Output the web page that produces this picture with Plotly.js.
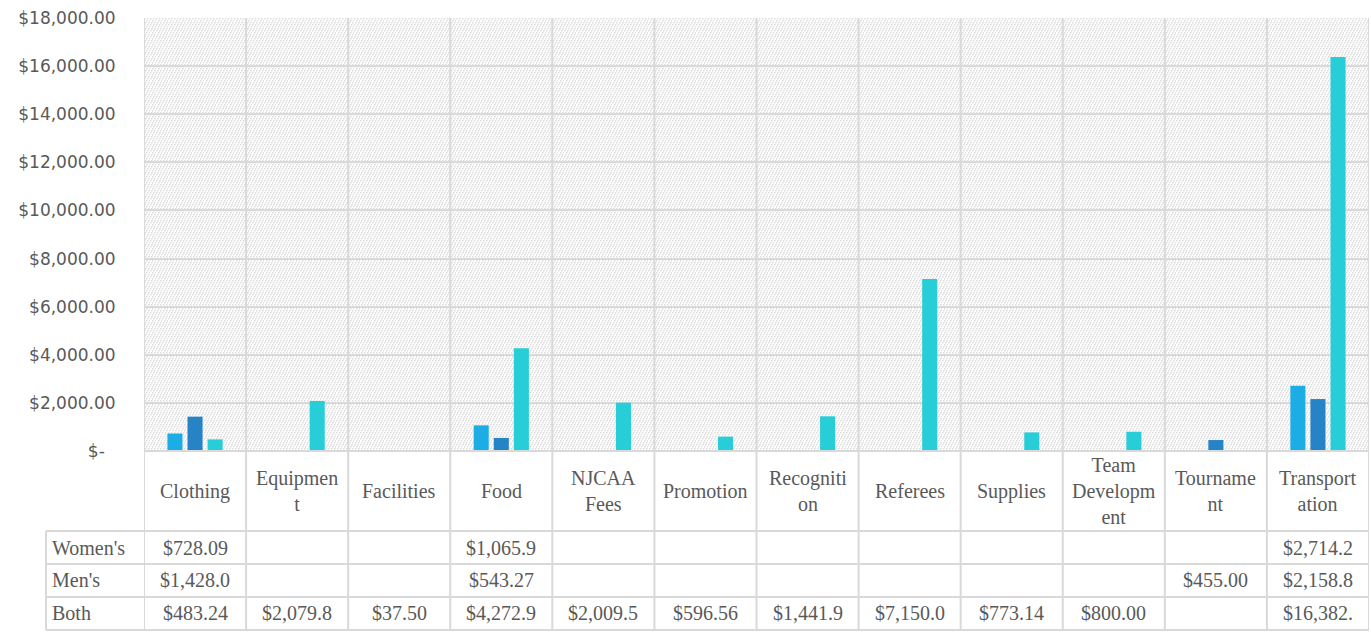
<!DOCTYPE html>
<html>
<head>
<meta charset="utf-8">
<script src="https://cdn.plot.ly/plotly-3.0.1.min.js"></script>
<style>
  html, body { margin: 0; padding: 0; background: #ffffff; }
  #chart { width: 1371px; height: 633px; }
</style>
</head>
<body>
<div id="chart"></div>
<script>
// ---------- data ----------
const categories = ["Clothing", "Equipment", "Facilities", "Food", "NJCAA Fees", "Promotion",
  "Recognition", "Referees", "Supplies", "Team Development", "Tournament", "Transportation"];
// category labels as wrapped in the data table
const categoryLabels = ["Clothing", "Equipmen<br>t", "Facilities", "Food", "NJCAA<br>Fees", "Promotion",
  "Recogniti<br>on", "Referees", "Supplies", "Team<br>Developm<br>ent", "Tourname<br>nt", "Transport<br>ation"];
const seriesNames = ["Women's", "Men's", "Both"];
const womens = [728.09, null, null, 1065.90, null, null, null, null, null, null, null, 2714.20];
const mens   = [1428.00, null, null, 543.27, null, null, null, null, null, null, 455.00, 2158.80];
const both   = [483.24, 2079.80, 37.50, 4272.90, 2009.50, 596.56, 1441.90, 7150.00, 773.14, 800.00, null, 16382.00];
const yTickVals = [0, 2000, 4000, 6000, 8000, 10000, 12000, 14000, 16000, 18000];
const yTickText = ["$-\u00a0\u00a0", "$2,000.00", "$4,000.00", "$6,000.00", "$8,000.00", "$10,000.00",
  "$12,000.00", "$14,000.00", "$16,000.00", "$18,000.00"];
const colors = ["#1CADE4", "#2683C6", "#27CED7"];

// ---------- helpers ----------
function cellText(v) {
  if (v === null || v === undefined) return "";
  const s = "$" + v.toLocaleString("en-US", {minimumFractionDigits: 2, maximumFractionDigits: 2});
  return s.slice(0, 8); // Excel truncates cell text that does not fit
}

const seriesData = [womens, mens, both];
const traces = seriesData.map((vals, i) => ({
  type: "bar",
  name: seriesNames[i],
  x: categories,
  y: vals,
  marker: {color: colors[i], line: {width: 0}},
  hoverinfo: "x+y+name"
}));

// table geometry (paper coordinates, plot area height = 433px)
const rowEdges = [0, -0.18476, -0.26097, -0.33718, -0.41339];
const leftEdge = -0.08;
const gridCol = "#D9D9D9";
const txtCol = "#595959";

const shapes = [];
for (let i = 0; i <= categories.length; i++) {
  shapes.push({type: "line", xref: "x", yref: "paper", x0: i - 0.5, x1: i - 0.5,
    y0: 1, y1: rowEdges[4], line: {color: gridCol, width: 2}, layer: "above"});
}
shapes.push({type: "line", xref: "paper", yref: "paper", x0: 0, x1: 1, y0: 0, y1: 0,
  line: {color: gridCol, width: 2}, layer: "above"});
for (let r = 1; r < rowEdges.length; r++) {
  shapes.push({type: "line", xref: "paper", yref: "paper", x0: leftEdge, x1: 1,
    y0: rowEdges[r], y1: rowEdges[r], line: {color: gridCol, width: 2}, layer: "above"});
}
shapes.push({type: "line", xref: "paper", yref: "paper", x0: leftEdge, x1: leftEdge,
  y0: rowEdges[1], y1: rowEdges[4], line: {color: gridCol, width: 2}, layer: "above"});

const annotations = [];
const tableFont = {family: "Liberation Serif, Times New Roman, DejaVu Serif, serif", size: 20, color: txtCol};
categories.forEach((c, i) => {
  annotations.push({xref: "x", yref: "paper", x: i, y: (rowEdges[0] + rowEdges[1]) / 2,
    text: categoryLabels[i], showarrow: false, xanchor: "center", yanchor: "middle",
    align: "center", font: tableFont});
});
seriesData.forEach((vals, r) => {
  const yc = (rowEdges[r + 1] + rowEdges[r + 2]) / 2;
  annotations.push({xref: "paper", yref: "paper", x: leftEdge + 0.003, y: yc, text: seriesNames[r],
    showarrow: false, xanchor: "left", yanchor: "middle", font: tableFont});
  vals.forEach((v, i) => {
    const t = cellText(v);
    if (t) annotations.push({xref: "x", yref: "paper", x: i, y: yc, text: t,
      showarrow: false, xanchor: "center", yanchor: "middle", font: tableFont});
  });
});

// hatched plot-area fill (Excel pattern fill) as a background image
let dots = "";
[[0,0],[2,2],[4,4],[3,0],[5,2],[1,4]].forEach(p => {
  dots += "<rect x='" + p[0] + "' y='" + p[1] + "' width='1.5' height='1.5' fill='#DCDCDC'/>";
});
const hatchSvg = "<svg xmlns='http://www.w3.org/2000/svg' width='1225' height='433'>" +
  "<defs><pattern id='p' patternUnits='userSpaceOnUse' width='6' height='6'>" +
  "<rect width='6' height='6' fill='#ffffff'/>" + dots + "</pattern></defs>" +
  "<rect width='1225' height='433' fill='url(#p)'/></svg>";
const hatchUri = "data:image/svg+xml;charset=utf-8," + encodeURIComponent(hatchSvg);

const layout = {
  width: 1371, height: 633,
  margin: {l: 144, r: 2, t: 18, b: 182, pad: 0},
  paper_bgcolor: "#ffffff",
  plot_bgcolor: "rgba(0,0,0,0)",
  showlegend: false,
  barmode: "group",
  bargap: 0.41,
  bargroupgap: 0.25,
  xaxis: {
    type: "category", range: [-0.5, categories.length - 0.5],
    showticklabels: false, ticks: "", showgrid: false, zeroline: false, showline: false,
    fixedrange: true
  },
  yaxis: {
    range: [0, 18000], tickvals: yTickVals, ticktext: yTickText,
    showgrid: true, gridcolor: gridCol, gridwidth: 2, zeroline: false, showline: false,
    ticks: "outside", ticklen: 24, tickcolor: "rgba(0,0,0,0)",
    tickfont: {family: "DejaVu Sans", size: 17, color: txtCol},
    fixedrange: true
  },
  images: [{
    source: hatchUri, xref: "paper", yref: "paper", x: 0, y: 1, sizex: 1, sizey: 1,
    xanchor: "left", yanchor: "top", sizing: "stretch", layer: "below"
  }],
  shapes: shapes,
  annotations: annotations
};

Plotly.newPlot("chart", traces, layout, {displayModeBar: false, staticPlot: true});
</script>
</body>
</html>
